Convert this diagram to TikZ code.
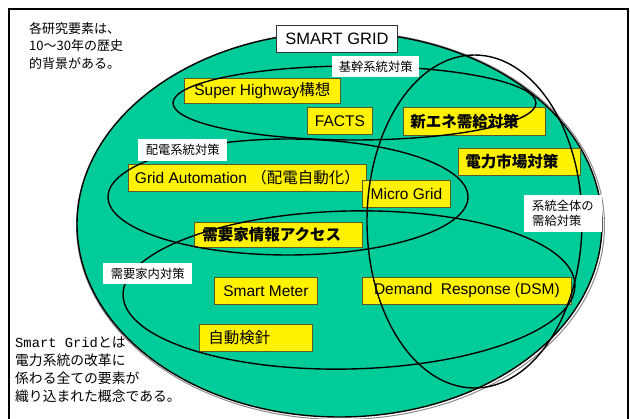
\documentclass[tikz,border=0pt]{standalone}
\usepackage{fontspec}
\setmainfont{Liberation Sans}
\newfontfamily\jp{Noto Sans CJK JP}
\newfontfamily\monofnt{Liberation Mono}
\definecolor{sggreen}{RGB}{0,204,153}
\definecolor{boxedge}{RGB}{90,90,40}
\begin{document}
\begin{tikzpicture}[x=1pt,y=-1pt,
  ell/.style={line width=1.4pt},
  ybox/.style={draw=boxedge, line width=0.8pt, fill=yellow, inner sep=0pt, anchor=north west, font=\fontsize{15.5}{18}\selectfont},
  ybold/.style={ybox, align=left, font=\jp\bfseries\fontsize{15.5}{18}\selectfont},
  wlab/.style={fill=white, inner sep=0pt, anchor=north west, font=\jp\fontsize{12.3}{15}\selectfont},
  note/.style={anchor=base west, inner sep=0pt, font=\jp\fontsize{13}{16}\selectfont},
  note2/.style={anchor=base west, inner sep=0pt, font=\jp\fontsize{13.8}{16}\selectfont},
]
\useasboundingbox (0,0) rectangle (630,419);
\fill[white] (0,0) rectangle (630,419);
% frame
\draw[line width=2pt] (9,430) -- (9,9.5) -- (628,9.5) -- (628,430);
% outer ellipse
\draw[black!45, line width=1pt] (340.5,225.5) ellipse [x radius=264pt, y radius=194pt];
\draw[fill=sggreen, line width=1.4pt] (339.5,224.5) ellipse [x radius=262.5pt, y radius=192.5pt];
% yellow boxes
\node[ybox, minimum width=156pt, minimum height=25pt] (sh) at (184,78) {Super Highway{\jp 構想}};
\node[ybox, minimum width=65pt, minimum height=27pt] (facts) at (307,107) {FACTS};
\node[ybold, minimum height=28pt, inner xsep=7pt, text width=128pt] (ne) at (403,107) {新エネ需給対策};
\node[ybold, minimum height=27pt, inner xsep=7pt, text width=108pt] (mkt) at (458,148) {電力市場対策};
\node[ybox, minimum width=238pt, minimum height=27pt] (ga) at (128,164) {Grid Automation {\jp （配電自動化）}};
\node[ybox, minimum width=88pt, minimum height=27pt] (mg) at (362,180) {Micro Grid};
\node[ybold, minimum height=25pt, inner xsep=8pt, text width=152pt] (info) at (194,222) {需要家情報アクセス};
\node[ybox, minimum width=103pt, minimum height=27pt] (sm) at (214,277) {Smart Meter};
\node[ybox, minimum width=209pt, minimum height=27pt] (dr) at (362,277) {Demand\hspace{4pt} Response (DSM)};
\node[ybox, align=left, minimum height=27pt, inner xsep=9pt, text width=95pt, font=\jp\fontsize{15.5}{18}\selectfont] (am) at (199,324) {自動検針};
% category ellipses
\draw[ell] (354.5,103) ellipse [x radius=181.5pt, y radius=37pt];
\draw[ell] (288,197) ellipse [x radius=180pt, y radius=58pt];
\draw[ell] (349,290) ellipse [x radius=226pt, y radius=79pt, rotate=1.3];
\draw[ell] (474.5,221.5) ellipse [x radius=107.5pt, y radius=166.5pt];
% white labels
\node[wlab, minimum width=87pt, minimum height=21pt] (kk) at (332,56) {基幹系統対策};
\node[wlab, minimum width=89pt, minimum height=22pt] (hd) at (138,139) {配電系統対策};
\node[wlab, minimum width=89pt, minimum height=21pt] (jy) at (103,263) {需要家内対策};
\node[wlab, align=left, inner xsep=8pt, text width=62pt, minimum height=37pt] (zt) at (524,195) {系統全体の\\需給対策};
% title
\node[draw=black!80, fill=white, line width=0.8pt, minimum width=121pt, minimum height=27pt, anchor=north west, inner sep=0pt, font=\fontsize{16.5}{19}\selectfont] (title) at (276,25) {SMART GRID};
% notes
\node[note] (n1) at (29,33.5) {各研究要素は、};
\node[note] (n2) at (29,51) {10～30年の歴史};
\node[note] (n3) at (29,68.5) {的背景がある。};
\node[note2] (m1) at (15,347.5) {{\monofnt Smart Grid}とは};
\node[note2] (m2) at (15,365.5) {電力系統の改革に};
\node[note2] (m3) at (15,383.5) {係わる全ての要素が};
\node[note2] (m4) at (15,401.5) {織り込まれた概念である。};
\end{tikzpicture}
\end{document}
